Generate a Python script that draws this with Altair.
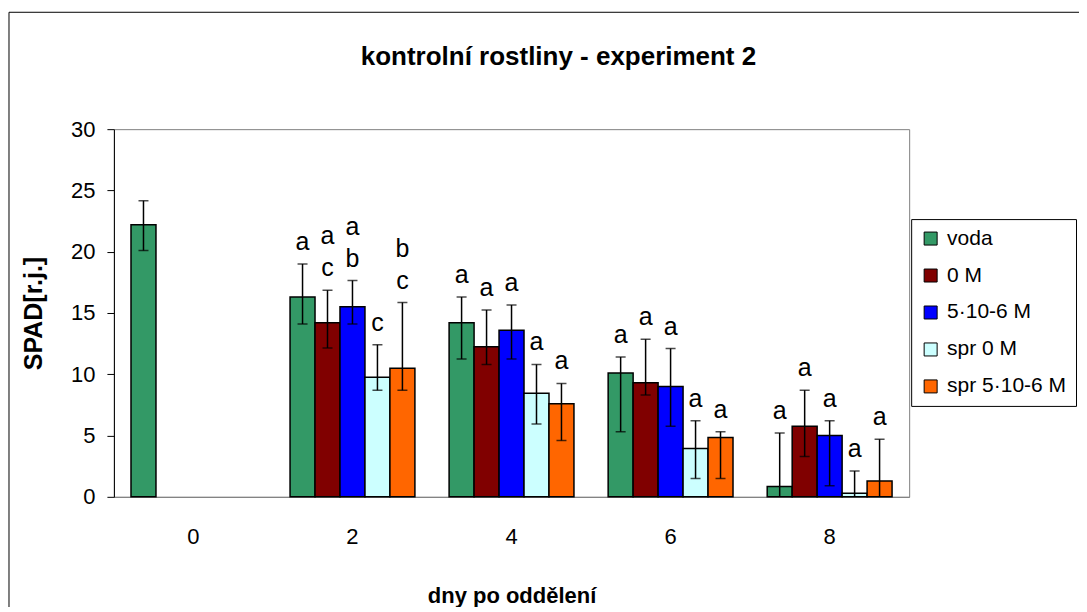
import altair as alt
import pandas as pd

FONT = "Liberation Sans"

days = ["0", "2", "4", "6", "8"]
series = ["voda", "0 M", "5·10-6 M", "spr 0 M", "spr 5·10-6 M"]
colors = ["#339966", "#800000", "#0000FF", "#CCFFFF", "#FF6600"]

# bar heights per series, one value per day (None = no bar)
values = {
    "voda":         [22.2, 16.3, 14.2, 10.1, 0.85],
    "0 M":          [None, 14.2, 12.25, 9.3, 5.75],
    "5·10-6 M":     [None, 15.5, 13.6, 9.0, 5.0],
    "spr 0 M":      [None, 9.75, 8.45, 3.95, 0.3],
    "spr 5·10-6 M": [None, 10.5, 7.6, 4.85, 1.3],
}
# upper end of error bars
err_hi = {
    "voda":         [24.15, 19.0, 16.3, 11.4, 5.2],
    "0 M":          [None, 16.85, 15.25, 12.85, 8.7],
    "5·10-6 M":     [None, 17.65, 15.65, 12.1, 6.2],
    "spr 0 M":      [None, 12.4, 10.8, 6.2, 2.1],
    "spr 5·10-6 M": [None, 15.85, 9.25, 5.3, 4.7],
}
# lower end of error bars
err_lo = {
    "voda":         [20.1, 14.1, 11.25, 5.3, -3.5],
    "0 M":          [None, 12.15, 10.8, 8.3, 3.3],
    "5·10-6 M":     [None, 14.1, 11.25, 5.75, 0.9],
    "spr 0 M":      [None, 8.7, 5.95, 1.5, -1.5],
    "spr 5·10-6 M": [None, 8.7, 4.6, 1.5, -2.1],
}
# significance letters: lower line (just above error bar) and upper line
letter_low = {
    "voda":         ["", "a", "a", "a", "a"],
    "0 M":          ["", "c", "a", "a", "a"],
    "5·10-6 M":     ["", "b", "a", "a", "a"],
    "spr 0 M":      ["", "c", "a", "a", "a"],
    "spr 5·10-6 M": ["", "c", "a", "a", "a"],
}
letter_top = {
    "voda":         ["", "", "", "", ""],
    "0 M":          ["", "a", "", "", ""],
    "5·10-6 M":     ["", "a", "", "", ""],
    "spr 0 M":      ["", "", "", "", ""],
    "spr 5·10-6 M": ["", "b", "", "", ""],
}

rows = []
for s in series:
    for i, d in enumerate(days):
        v = values[s][i]
        if v is None:
            continue
        rows.append({"day": d, "series": s, "value": v,
                     "hi": err_hi[s][i], "lo": err_lo[s][i],
                     "low": letter_low[s][i], "top": letter_top[s][i]})
df = pd.DataFrame(rows)

x_enc = alt.X("day:N", sort=days,
              scale=alt.Scale(paddingInner=0.215, paddingOuter=0.1075),
              axis=alt.Axis(title="dny po oddělení", labelAngle=0, ticks=False,
                            labelPadding=30, titlePadding=38,
                            domainColor="#808080", titleFontSize=22))
xo_enc = alt.XOffset("series:N", sort=series,
                     scale=alt.Scale(domain=series, paddingInner=0, paddingOuter=0))
y_scale = alt.Scale(domain=[0, 30], nice=False, zero=True)
y_axis = alt.Axis(title="SPAD[r.j.]", values=[0, 5, 10, 15, 20, 25, 30], grid=False,
                  tickSize=7, labelPadding=12, titlePadding=24, titleFontSize=25)

base = alt.Chart(df)

bars = base.mark_bar(stroke="black", strokeWidth=1.5).encode(
    x=x_enc, xOffset=xo_enc,
    y=alt.Y("value:Q", scale=y_scale, axis=y_axis),
    color=alt.Color("series:N", sort=series,
                    scale=alt.Scale(domain=series, range=colors),
                    legend=alt.Legend(title=None)),
)

err = base.mark_rule(color="black", strokeWidth=1.5, clip=True).encode(
    x=x_enc, xOffset=xo_enc,
    y=alt.Y("lo:Q", scale=y_scale, axis=y_axis), y2="hi:Q",
)
cap_hi = base.mark_tick(orient="horizontal", size=10, thickness=1.5,
                        color="black", clip=True).encode(
    x=x_enc, xOffset=xo_enc, y=alt.Y("hi:Q", scale=y_scale, axis=y_axis))
cap_lo = base.mark_tick(orient="horizontal", size=10, thickness=1.5,
                        color="black", clip=True).encode(
    x=x_enc, xOffset=xo_enc, y=alt.Y("lo:Q", scale=y_scale, axis=y_axis))

txt_low = base.transform_filter(alt.datum.low != "").mark_text(
    baseline="bottom", align="center", dy=-9,
    fontSize=25, font=FONT, color="black").encode(
    x=x_enc, xOffset=xo_enc,
    y=alt.Y("hi:Q", scale=y_scale, axis=y_axis),
    text="low:N")
txt_top = base.transform_filter(alt.datum.top != "").mark_text(
    baseline="bottom", align="center", dy=-41,
    fontSize=25, font=FONT, color="black").encode(
    x=x_enc, xOffset=xo_enc,
    y=alt.Y("hi:Q", scale=y_scale, axis=y_axis),
    text="top:N")

deco = alt.Chart(pd.DataFrame({"k": [0]}))
frame = deco.mark_rect(fillOpacity=0, stroke="black", strokeWidth=1).encode(
    x=alt.value(-105), x2=alt.value(967), y=alt.value(-117), y2=alt.value(540))
title = deco.mark_text(
    text="kontrolní rostliny - experiment 2", fontSize=26, fontWeight="bold",
    font=FONT, color="black", align="center", baseline="middle").encode(
    x=alt.value(445), y=alt.value(-72))

chart = alt.layer(bars, err, cap_hi, cap_lo, txt_low, txt_top, frame, title).properties(
    width=796, height=368,
    autosize=alt.AutoSizeParams(type="none"),
    padding={"left": 106, "top": 121, "right": 170, "bottom": 110},
).configure_view(
    stroke="#808080", strokeWidth=1
).configure_axis(
    labelFont=FONT, titleFont=FONT, labelFontSize=22,
    titleFontWeight="bold", labelColor="black", titleColor="black",
    domainColor="black", tickColor="black", domainWidth=1, tickWidth=1,
).configure_legend(
    orient="none", legendX=798, legendY=90, padding=9, rowPadding=15,
    strokeColor="black", fillColor="white", symbolType="square",
    symbolSize=169, symbolStrokeColor="black", symbolStrokeWidth=1,
    labelFont=FONT, labelFontSize=21, labelColor="black", labelOffset=6,
    cornerRadius=0,
)

chart.save("out.html", embed_options={"renderer": "svg", "actions": False})
